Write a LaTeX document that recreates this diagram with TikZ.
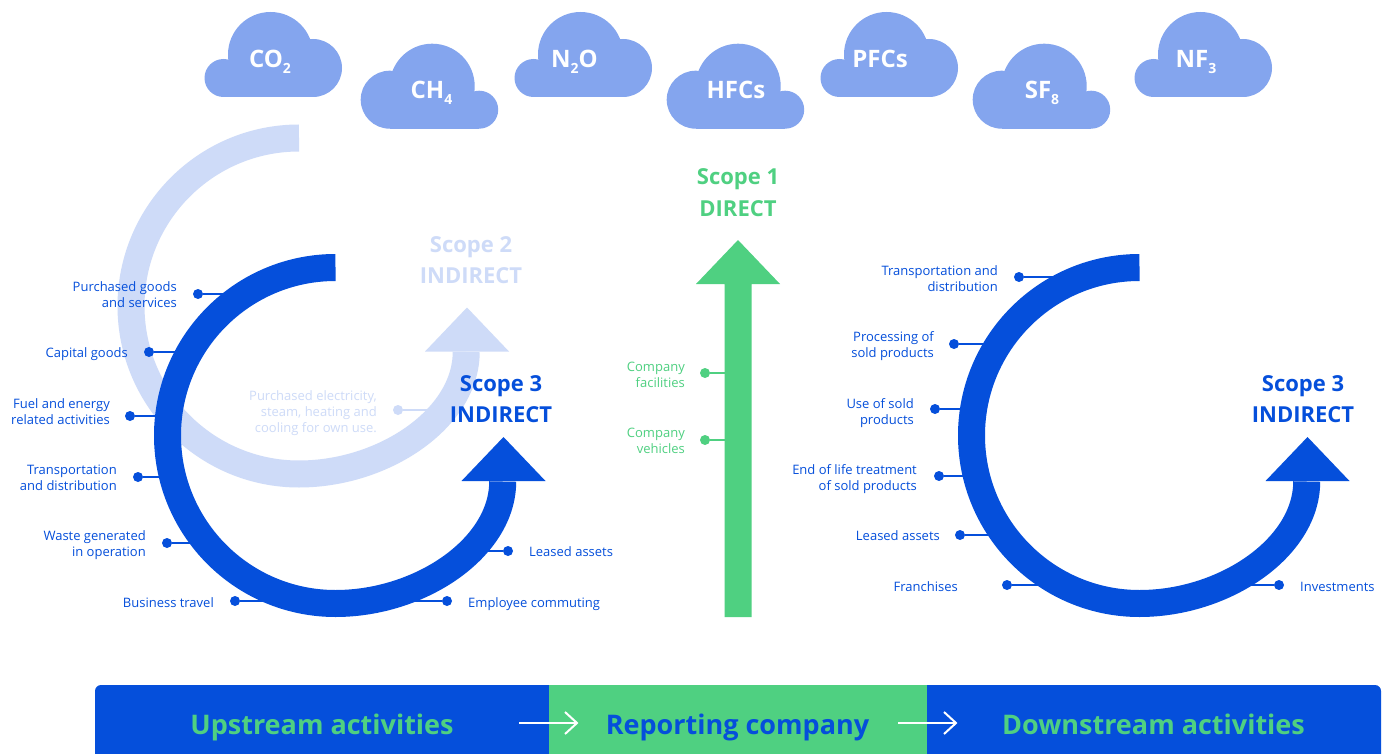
\documentclass[tikz,border=0pt]{standalone}
\usepackage{fontspec}
\setmainfont{Open Sans}
\definecolor{dk}{HTML}{054FDB}
\definecolor{lt}{HTML}{CEDBF8}
\definecolor{gr}{HTML}{4FD081}
\definecolor{cl}{HTML}{84A5EE}
\newcommand{\st}{\rule[-4pt]{0pt}{16pt}}
\tikzset{
  small/.style={font=\fontsize{13}{16}\selectfont,inner sep=0pt,align=right},
  smallL/.style={small,anchor=west,align=left},
  smallR/.style={small,anchor=east},
  ttl/.style={font=\fontsize{22}{24}\selectfont\bfseries,inner sep=0pt,anchor=base},
  cloudtxt/.style={font=\fontsize{24}{27}\selectfont\bfseries,text=white,inner sep=0pt,anchor=base},
  band/.style={font=\fontsize{27}{30}\selectfont\bfseries,inner sep=0pt,anchor=base},
  dotn/.style={circle,fill=#1,draw=none,minimum size=10pt,inner sep=0pt},
  lnk/.style={draw=#1,line width=2pt},
  ring/.style={draw=#1,line width=27pt,line cap=butt},
}
\newcommand{\ringarrow}[1]{%
  \draw[ring=#1] (335.5,267.5) arc (-90:-270:168)
     .. controls (420,603.5) and (502.7,548) .. (502.7,481.5);
  \fill[#1] (461.5,481) -- (503.5,437) -- (545.5,481) -- cycle;
}
\newcommand{\cloudA}[1]{\begin{scope}[shift={(#1,0)}]
  \fill[cl] (270.5,54.5) circle[radius=42.5];
  \fill[cl] (223.5,78) circle[radius=19];
  \fill[cl] (313,68) circle[radius=29];
  \fill[cl] (223.5,60) rectangle (313,97);
  \end{scope}}
\newcommand{\cloudB}[1]{\begin{scope}[shift={(#1,0)}]
  \fill[cl] (432.2,86.2) circle[radius=42.5];
  \fill[cl] (479.2,109.7) circle[radius=19];
  \fill[cl] (389.7,99.7) circle[radius=29];
  \fill[cl] (389.7,92) rectangle (479.2,128.7);
  \end{scope}}
\newcommand{\sub}[1]{\raisebox{-6pt}{\fontsize{14}{14}\selectfont #1}}
\begin{document}
\begin{tikzpicture}[x=1pt,y=-1pt]
\useasboundingbox (0,0) rectangle (1389,754);
\fill[white] (0,0) rectangle (1389,754);
% clouds
\cloudA{0}\cloudB{0}\cloudA{310}\cloudB{306}\cloudA{616}\cloudB{612}\cloudA{930}
\node[cloudtxt] (tco) at (270,68) {CO\sub{2}};
\node[cloudtxt] (tch) at (431.5,99) {CH\sub{4}};
\node[cloudtxt] (tno) at (574.5,68) {N\sub{2}O};
\node[cloudtxt] (thf) at (736,99) {HFCs};
\node[cloudtxt] (tpf) at (880,68) {PFCs};
\node[cloudtxt] (tsf) at (1042,99) {SF\sub{8}};
\node[cloudtxt] (tnf) at (1196,68) {NF\sub{3}};
% scope 2 (light)
\begin{scope}[shift={(-36.5,-129.5)}]
  \ringarrow{lt}
\end{scope}
\node[ttl,text=lt] (s2a) at (471,252) {Scope 2};
\node[ttl,text=lt] (s2b) at (471,283) {INDIRECT};
\node[smallR,text=lt] (l0) at (377,412) {\st Purchased electricity,\\\st steam, heating and\\\st cooling for own use.};
\node[dotn=lt] (d0) at (398,410) {};
\coordinate (e0) at (436,410);
\draw[lnk=lt] (d0) -- (e0);
% left scope 3 links
\foreach \n/\x/\y/\ex in {a/198/294/246,b/149/352/190,c/130/416/168,d/138/477/173,e/167/543/206,f/235/601/270,g/447/601/395,h/508/551/470}{
  \node[dotn=dk] (d\n) at (\x,\y) {};
  \coordinate (e\n) at (\ex,\y);
  \draw[lnk=dk] (d\n) -- (e\n);
}
\ringarrow{dk}
\node[smallR,text=dk] at (177,295) {\st Purchased goods\\\st and services};
\node[smallR,text=dk] at (128,353) {\st Capital goods};
\node[smallR,text=dk] at (110,412) {\st Fuel and energy\\\st related activities};
\node[smallR,text=dk] at (117,478) {\st Transportation\\\st and distribution};
\node[smallR,text=dk] at (146,544) {\st Waste generated\\\st in operation};
\node[smallR,text=dk] at (214,603) {\st Business travel};
\node[smallL,text=dk] at (468,603) {\st Employee commuting};
\node[smallL,text=dk] at (529,552) {\st Leased assets};
\node[ttl,text=dk] (s3a) at (501,391) {Scope 3};
\node[ttl,text=dk] (s3b) at (501,422) {INDIRECT};
% right scope 3
\foreach \n/\x/\y/\ex in {i/1019/277/1082,j/954/344/998,k/935/409/973,l/939/476/976,m/960/535/1004,o/1007/585/1061,p/1279/585/1228}{
  \node[dotn=dk] (d\n) at (\x,\y) {};
  \coordinate (e\n) at (\ex,\y);
  \draw[lnk=dk] (d\n) -- (e\n);
}
\begin{scope}[shift={(804,0)}]
  \ringarrow{dk}
\end{scope}
\node[smallR,text=dk] at (998,279) {\st Transportation and\\\st distribution};
\node[smallR,text=dk] at (934,345) {\st Processing of\\\st sold products};
\node[smallR,text=dk] at (914,412) {\st Use of sold\\\st products};
\node[smallR,text=dk] at (917,478) {\st End of life treatment\\\st of sold products};
\node[smallR,text=dk] at (940,536) {\st Leased assets};
\node[smallR,text=dk] at (958,587) {\st Franchises};
\node[smallL,text=dk] at (1300,587) {\st Investments};
\node[ttl,text=dk] (s3c) at (1303,391) {Scope 3};
\node[ttl,text=dk] (s3d) at (1303,422) {INDIRECT};
% scope 1
\fill[gr] (724.5,617) -- (724.5,284) -- (696,284) -- (738,240) -- (780,284) -- (751.5,284) -- (751.5,617) -- cycle;
\node[ttl,text=gr] (s1a) at (738,185) {Scope 1};
\node[ttl,text=gr] (s1b) at (738,216) {DIRECT};
\node[smallR,text=gr] at (685,375) {\st Company\\\st facilities};
\node[smallR,text=gr] at (685,441) {\st Company\\\st vehicles};
\node[dotn=gr] (dq) at (705,373) {};
\coordinate (eq) at (730,373);
\draw[lnk=gr] (dq) -- (eq);
\node[dotn=gr] (dr) at (705,440) {};
\coordinate (er) at (730,440);
\draw[lnk=gr] (dr) -- (er);
% band
\fill[dk] (95,754) -- (95,691) arc (180:270:6) -- (549,685) -- (549,754) -- cycle;
\fill[gr] (549,685) rectangle (927,754);
\fill[dk] (927,754) -- (927,685) -- (1375,685) arc (-90:0:6) -- (1381,754) -- cycle;
\node[band,text=gr] (up) at (322,734) {Upstream activities};
\node[band,text=dk] (rep) at (737.5,734) {Reporting company};
\node[band,text=gr] (down) at (1153.5,734) {Downstream activities};
\coordinate (a1) at (519,723); \coordinate (a2) at (577,723);
\coordinate (a3) at (898,723); \coordinate (a4) at (956,723);
\draw[white,line width=2pt] (a1) -- (a2);
\draw[white,line width=2pt] ([shift={(-12,-11)}]a2) -- (a2) -- ([shift={(-12,11)}]a2);
\draw[white,line width=2pt] (a3) -- (a4);
\draw[white,line width=2pt] ([shift={(-12,-11)}]a4) -- (a4) -- ([shift={(-12,11)}]a4);
\end{tikzpicture}
\end{document}
